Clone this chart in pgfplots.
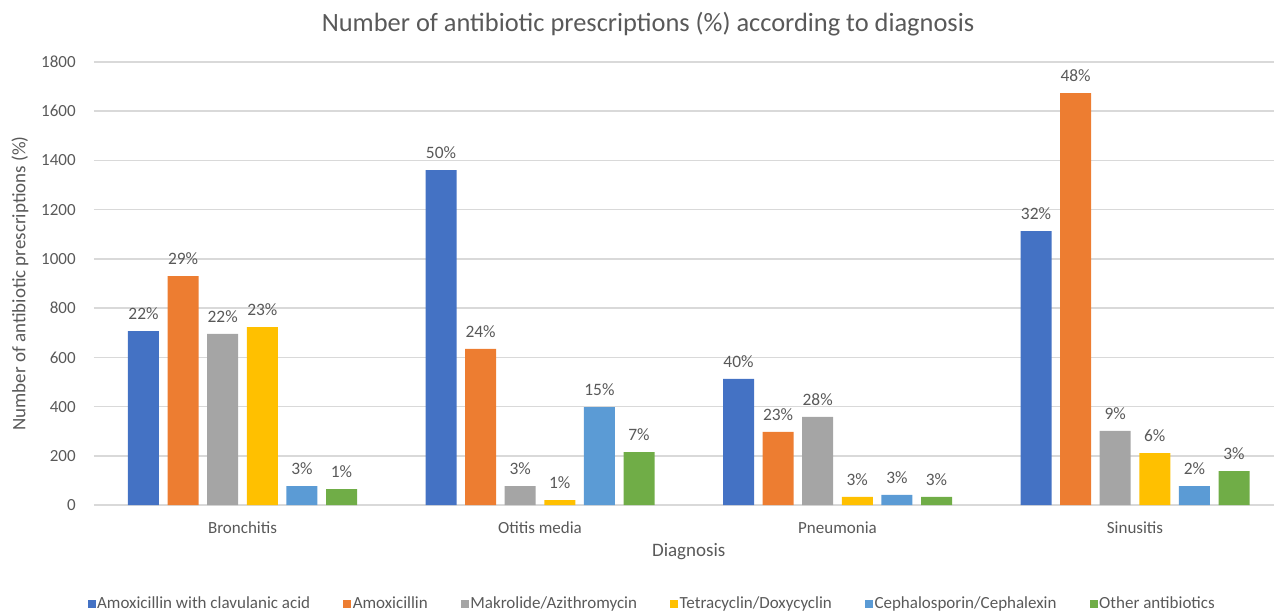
\documentclass[border=0pt]{standalone}
\usepackage{fontspec}
\setmainfont{Carlito}
\usepackage{pgfplots}
\pgfplotsset{compat=1.18}
\definecolor{c1}{HTML}{4472C4}
\definecolor{c2}{HTML}{ED7D31}
\definecolor{c3}{HTML}{A5A5A5}
\definecolor{c4}{HTML}{FFC000}
\definecolor{c5}{HTML}{5B9BD5}
\definecolor{c6}{HTML}{70AD47}
\definecolor{txt}{HTML}{595959}
\definecolor{gridc}{HTML}{D9D9D9}
\begin{document}
\begin{tikzpicture}
\path[use as bounding box, clip] (0,0) rectangle (637pt,-305.5pt);
\begin{axis}[
  at={(46.875pt,-252.5pt)}, anchor=south west,
  scale only axis, width=595pt, height=221.5pt,
  ybar=4.3pt, bar width=15.5pt,
  xmin=-0.5, xmax=3.5, ymin=0, ymax=1800,
  xtick={0,1,2,3}, xticklabels={Bronchitis,Otitis media,Pneumonia,Sinusitis},
  ytick={0,200,...,1800},
  ymajorgrids, grid style={draw=gridc, line width=0.8pt},
  axis line style={draw=none}, major tick length=0pt,
  tick label style={font=\fontsize{8.5}{10}\selectfont, text=txt},
  /pgf/number format/1000 sep={}, /pgf/number format/assume math mode=true,
  yticklabel style={anchor=east, xshift=-5.5pt},
  xticklabel style={anchor=base, yshift=-14.25pt},
  xlabel={Diagnosis},
  ylabel={Number of antibiotic prescriptions (\%)},
  every axis x label/.style={at={(axis description cs:0.5,0)}, yshift=-23.5pt, anchor=center, font=\fontsize{9.5}{11}\selectfont, text=txt},
  every axis y label/.style={at={(axis description cs:0,0.5)}, xshift=-36.9pt, rotate=90, anchor=center, font=\fontsize{9.5}{11}\selectfont, text=txt},
  title={Number of antibiotic prescriptions (\%) according to diagnosis},
  every axis title/.style={at={(axis description cs:0.4658,1)}, yshift=19pt, anchor=center, font=\fontsize{13.2}{15}\selectfont, text=txt},
  legend columns=6,
  legend style={at={(axis description cs:0.4691,-0.2235)}, anchor=center, draw=none, fill=none,
    font=\fontsize{8.5}{10}\selectfont, text=txt,
    nodes={inner sep=0.75pt},
    /tikz/every even column/.append style={column sep=15.8pt}},
  legend image code/.code={\fill[#1] (0pt,-2pt) rectangle (4pt,2pt);},
  point meta=explicit symbolic,
  nodes near coords={\pgfplotspointmeta\%},
  every node near coord/.append style={font=\fontsize{8.7}{10}\selectfont, text=txt, inner sep=5.5pt},
]
\addplot[fill=c1, draw=none] table[x=x, y=y, meta=l] {
x y l
0 707 22
1 1361 50
2 512 40
3 1113 32
};
\addplot[fill=c2, draw=none] table[x=x, y=y, meta=l] {
x y l
0 930 29
1 634 24
2 297 23
3 1674 48
};
\addplot[fill=c3, draw=none] table[x=x, y=y, meta=l] {
x y l
0 695 22
1 77 3
2 358 28
3 301 9
};
\addplot[fill=c4, draw=none] table[x=x, y=y, meta=l] {
x y l
0 723 23
1 20 1
2 33 3
3 211 6
};
\addplot[fill=c5, draw=none] table[x=x, y=y, meta=l] {
x y l
0 77 3
1 398 15
2 41 3
3 77 2
};
\addplot[fill=c6, draw=none] table[x=x, y=y, meta=l] {
x y l
0 65 1
1 215 7
2 33 3
3 138 3
};
\legend{Amoxicillin with clavulanic acid, Amoxicillin, Makrolide/Azithromycin, Tetracyclin/Doxycyclin, Cephalosporin/Cephalexin, Other antibiotics}
\end{axis}
\end{tikzpicture}
\end{document}
